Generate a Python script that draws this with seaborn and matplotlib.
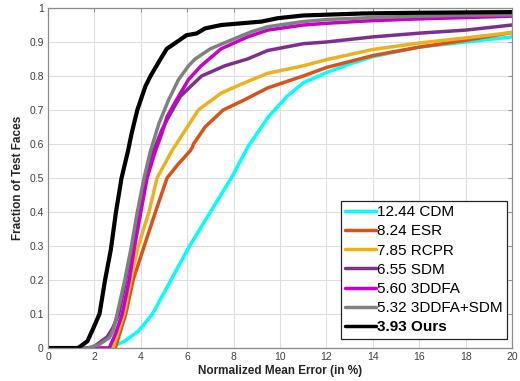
import matplotlib
matplotlib.use("Agg")
import matplotlib.pyplot as plt
import seaborn as sns

# =========================
# Data
# =========================
labels = ["12.44 CDM", "8.24 ESR", "7.85 RCPR", "6.55 SDM",
          "5.60 3DDFA", "5.32 3DDFA+SDM", "3.93 Ours"]
colors = ["#00FFFF", "#D95319", "#EDB120", "#7E2F8E",
          "#C800C8", "#808080", "#000000"]

cdm_x = [0, 2.6, 3.3, 3.9, 4.5, 5.3, 6.1, 7.0, 7.9, 8.6, 9.5, 10.3, 11.0, 12.0, 13.0, 14.0, 16.0, 18.0, 20.0]
cdm_y = [0, 0, 0.02, 0.05, 0.10, 0.20, 0.30, 0.40, 0.50, 0.59, 0.68, 0.74, 0.78, 0.81, 0.835, 0.857, 0.885, 0.90, 0.915]

esr_x = [0, 2.9, 3.35, 3.67, 4.1, 4.63, 5.13, 5.6, 6.13, 6.22, 6.27, 6.77, 7.55, 8.47, 9.47, 11.0, 12.0, 14.0, 16.0, 18.0, 20.0]
esr_y = [0, 0, 0.10, 0.20, 0.29, 0.40, 0.50, 0.54, 0.58, 0.59, 0.60, 0.65, 0.70, 0.73, 0.765, 0.80, 0.825, 0.86, 0.885, 0.905, 0.928]

rcpr_x = [0, 2.8, 3.28, 3.57, 3.85, 4.35, 4.7, 5.34, 6.48, 7.47, 8.47, 9.47, 11.0, 12.0, 14.0, 16.0, 18.0, 20.0]
rcpr_y = [0, 0, 0.10, 0.20, 0.29, 0.40, 0.50, 0.58, 0.70, 0.75, 0.78, 0.808, 0.83, 0.848, 0.878, 0.897, 0.912, 0.928]

sdm_x = [0, 1.9, 2.56, 2.8, 3.05, 3.35, 3.6, 3.92, 4.2, 4.55, 4.9, 5.2, 5.7, 6.62, 7.62, 8.6, 9.47, 11.0, 12.0, 14.0, 16.0, 18.0, 20.0]
sdm_y = [0, 0, 0.033, 0.06, 0.10, 0.20, 0.29, 0.40, 0.50, 0.58, 0.64, 0.68, 0.74, 0.80, 0.83, 0.85, 0.875, 0.895, 0.90, 0.915, 0.926, 0.935, 0.95]

ddfa_x = [0, 2.64, 2.9, 3.2, 3.5, 3.71, 4.0, 4.27, 4.63, 4.9, 5.13, 5.54, 6.06, 6.6, 7.46, 8.6, 9.47, 11.0, 12.0, 14.0, 16.0, 18.0, 20.0]
ddfa_y = [0, 0, 0.04, 0.10, 0.20, 0.29, 0.40, 0.50, 0.58, 0.63, 0.68, 0.73, 0.79, 0.83, 0.88, 0.915, 0.935, 0.95, 0.955, 0.963, 0.968, 0.972, 0.976]

ddfa_sdm_x = [0, 1.7, 2.2, 2.64, 2.8, 2.98, 3.31, 3.57, 3.85, 4.14, 4.42, 4.78, 5.2, 5.63, 6.06, 6.34, 7.0, 7.69, 8.76, 9.47, 11.0, 12.0, 14.0, 16.0, 18.0, 20.0]
ddfa_sdm_y = [0, 0, 0.01, 0.03, 0.05, 0.10, 0.20, 0.29, 0.40, 0.50, 0.58, 0.66, 0.73, 0.79, 0.83, 0.85, 0.88, 0.90, 0.93, 0.945, 0.96, 0.966, 0.972, 0.976, 0.979, 0.98]

ours_x = [0, 1.3, 1.7, 1.9, 2.22, 2.46, 2.71, 2.93, 3.17, 3.45, 3.6, 3.85, 4.2, 4.42, 4.85, 5.12, 5.55, 5.97, 6.4, 6.77, 7.47, 8.33, 9.2, 9.9, 11.0, 13.6, 16.0, 20.0]
ours_y = [0, 0, 0.02, 0.05, 0.10, 0.20, 0.29, 0.40, 0.50, 0.58, 0.63, 0.70, 0.77, 0.80, 0.85, 0.88, 0.90, 0.92, 0.925, 0.94, 0.95, 0.955, 0.96, 0.97, 0.978, 0.984, 0.986, 0.988]

series = [(cdm_x, cdm_y), (esr_x, esr_y), (rcpr_x, rcpr_y), (sdm_x, sdm_y),
          (ddfa_x, ddfa_y), (ddfa_sdm_x, ddfa_sdm_y), (ours_x, ours_y)]

x_ticks = list(range(0, 21, 2))
y_ticks = [i / 10 for i in range(11)]
y_ticklabels = ["0"] + [f"{v:.1f}" for v in y_ticks[1:-1]] + ["1"]

# =========================
# Plot
# =========================
sns.set_style("whitegrid")
plt.rcParams["font.family"] = ["Liberation Sans", "DejaVu Sans"]

fig = plt.figure(figsize=(5.2, 3.81), dpi=100)
ax = fig.add_axes([48 / 520, 1 - 348 / 381, 464 / 520, 340 / 381])

for (xs, ys), lab, col in zip(series, labels, colors):
    lw = 3.0 if lab.endswith("Ours") else 2.5
    sns.lineplot(x=xs, y=ys, ax=ax, color=col, linewidth=lw, label=lab,
                 sort=False, estimator=None)

ax.set_xlim(0, 20)
ax.set_ylim(0, 1)
ax.set_xticks(x_ticks)
ax.set_yticks(y_ticks)
ax.set_yticklabels(y_ticklabels)
ax.grid(True, color="#dedede", linewidth=0.8)
for s in ax.spines.values():
    s.set_visible(True)
    s.set_color("#8c8c8c")
    s.set_linewidth(0.9)
ax.tick_params(direction="in", top=True, right=True, length=3, width=0.7,
               color="#8c8c8c", labelsize=7.5, labelcolor="#404040", pad=3)

ax.set_xlabel("Normalized Mean Error (in %)", fontsize=8.5, fontweight="bold",
              color="#262626", labelpad=2)
ax.set_ylabel("Fraction of Test Faces", fontsize=8.5, fontweight="bold",
              color="#262626", labelpad=4)

leg = ax.legend(loc="lower right", bbox_to_anchor=(1 - 5 / 464, 9 / 340),
                borderaxespad=0, fontsize=11, handlelength=2.0,
                handletextpad=0.05, labelspacing=0.34, borderpad=0.3,
                fancybox=False, framealpha=1, edgecolor="#262626")
leg.get_frame().set_linewidth(0.9)
for t in leg.get_texts():
    t.set_color("#000000")
leg.get_texts()[-1].set_fontweight("bold")
for h in leg.get_lines():
    h.set_linewidth(2.5)

fig.savefig("out.png", dpi=100)
